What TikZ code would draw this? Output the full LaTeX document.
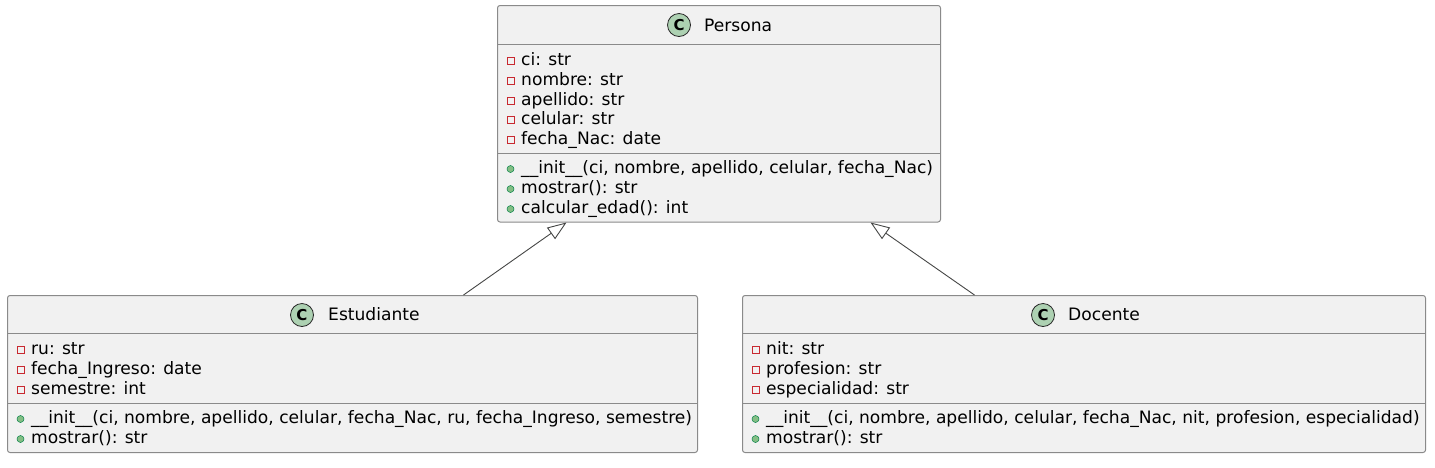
\documentclass[tikz,border=0pt]{standalone}
\usepackage{fontspec}
\setmainfont{DejaVu Sans}
\usepackage{tikz}
\usetikzlibrary{arrows.meta,positioning}

\definecolor{boxfill}{HTML}{F1F1F1}
\definecolor{boxline}{HTML}{8A8A8A}
\definecolor{privred}{HTML}{C82930}
\definecolor{pubgreen}{HTML}{84BE84}
\definecolor{publine}{HTML}{038048}
\definecolor{iconfill}{HTML}{ADD1B2}
\definecolor{linkgray}{HTML}{454645}

\newcommand{\memberfont}{\fontsize{17.1}{20}\selectfont}

\begin{document}
\begin{tikzpicture}[x=1pt,y=-1pt,
    classbox/.style={rectangle,anchor=north west,inner sep=0pt,draw=boxline,fill=boxfill,line width=1pt,rounded corners=2.5pt},
    sepline/.style={draw=boxline,line width=1pt},
    classicon/.style={circle,minimum size=23pt,inner sep=0pt,draw=black!85,fill=iconfill,line width=0.8pt,font=\fontsize{15}{15}\selectfont\bfseries},
    title/.style={anchor=base west,inner sep=0pt,font=\memberfont},
    member/.style={anchor=base west,inner sep=0pt,font=\memberfont},
    privmark/.style={rectangle,minimum size=7pt,inner sep=0pt,draw=privred,line width=0.8pt},
    pubmark/.style={circle,minimum size=7pt,inner sep=0pt,draw=publine,fill=pubgreen,line width=0.5pt},
    inherit/.style={draw=linkgray,line width=0.9pt,-{Triangle[open,length=19pt,width=14pt]}},
   ]
    \useasboundingbox (0,0) rectangle (1435,467);

    % Persona
    \node (persona) [classbox,minimum width=443pt,minimum height=216.5pt] at (497,5) {};
    \draw[sepline] (persona.north west) ++(0,39) -- ++(443,0);
    \draw[sepline] (persona.north west) ++(0,148) -- ++(443,0);
    \node (personaC) [classicon] at (679,25) {C};
    \node (personaT) [title] at (704,31) {Persona};

    \node (ciM) [privmark] at (510.5,60.5) {};
    \node (ci) [member] at (521,65) {ci: str};
    \node (nombreM) [privmark] at (510.5,80.5) {};
    \node (nombre) [member] at (521,85) {nombre: str};
    \node (apellidoM) [privmark] at (510.5,100.5) {};
    \node (apellido) [member] at (521,105) {apellido: str};
    \node (celularM) [privmark] at (510.5,120) {};
    \node (celular) [member] at (521,124.5) {celular: str};
    \node (fechaNacM) [privmark] at (510.5,139.5) {};
    \node (fechaNac) [member] at (521,144) {fecha\_Nac: date};

    \node (initPM) [pubmark] at (510.5,169) {};
    \node (initP) [member] at (521,173) {\_\_init\_\_(ci, nombre, apellido, celular, fecha\_Nac)};
    \node (mostrarPM) [pubmark] at (510.5,189) {};
    \node (mostrarP) [member] at (521,193) {mostrar(): str};
    \node (edadM) [pubmark] at (510.5,209) {};
    \node (edad) [member] at (521,213) {calcular\_edad(): int};

    % Estudiante
    \node (estudiante) [classbox,minimum width=690pt,minimum height=157pt] at (7,295) {};
    \draw[sepline] (estudiante.north west) ++(0,38.5) -- ++(690,0);
    \draw[sepline] (estudiante.north west) ++(0,108) -- ++(690,0);
    \node (estudianteC) [classicon] at (302,315) {C};
    \node (estudianteT) [title] at (328,320) {Estudiante};

    \node (ruM) [privmark] at (20.5,349.5) {};
    \node (ru) [member] at (31,354) {ru: str};
    \node (ingresoM) [privmark] at (20.5,369.5) {};
    \node (ingreso) [member] at (31,374) {fecha\_Ingreso: date};
    \node (semestreM) [privmark] at (20.5,389.5) {};
    \node (semestre) [member] at (31,394) {semestre: int};

    \node (initEM) [pubmark] at (20.5,419) {};
    \node (initE) [member] at (31,423) {\_\_init\_\_(ci, nombre, apellido, celular, fecha\_Nac, ru, fecha\_Ingreso, semestre)};
    \node (mostrarEM) [pubmark] at (20.5,439) {};
    \node (mostrarE) [member] at (31,443) {mostrar(): str};

    % Docente
    \node (docente) [classbox,minimum width=683pt,minimum height=157pt] at (742,295) {};
    \draw[sepline] (docente.north west) ++(0,38.5) -- ++(683,0);
    \draw[sepline] (docente.north west) ++(0,108) -- ++(683,0);
    \node (docenteC) [classicon] at (1043,315) {C};
    \node (docenteT) [title] at (1068,320) {Docente};

    \node (nitM) [privmark] at (755.5,349.5) {};
    \node (nit) [member] at (766,354) {nit: str};
    \node (profesionM) [privmark] at (755.5,369.5) {};
    \node (profesion) [member] at (766,374) {profesion: str};
    \node (especialidadM) [privmark] at (755.5,389.5) {};
    \node (especialidad) [member] at (766,394) {especialidad: str};

    \node (initDM) [pubmark] at (755.5,419) {};
    \node (initD) [member] at (766,423) {\_\_init\_\_(ci, nombre, apellido, celular, fecha\_Nac, nit, profesion, especialidad)};
    \node (mostrarDM) [pubmark] at (755.5,439) {};
    \node (mostrarD) [member] at (766,443) {mostrar(): str};

    % herencia
    \draw[inherit] ([xshift=111pt]estudiante.north) -- ([xshift=-152.5pt]persona.south);
    \draw[inherit] ([xshift=-109.5pt]docente.north) -- ([xshift=151.5pt]persona.south);
\end{tikzpicture}
\end{document}
